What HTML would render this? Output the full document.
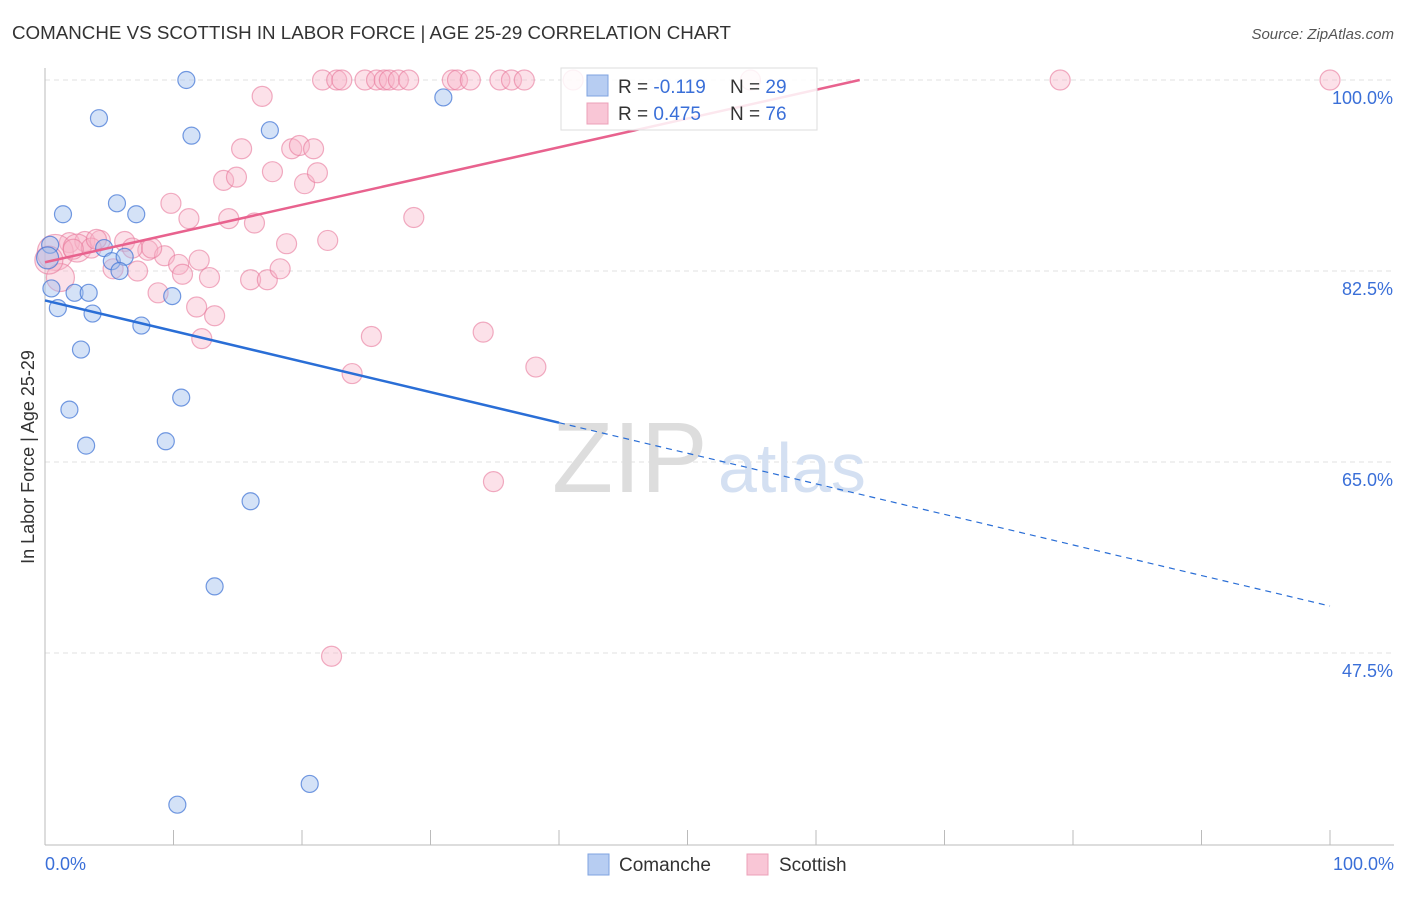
<!DOCTYPE html>
<html><head><meta charset="utf-8"><style>
body{margin:0;background:#fff;font-family:"Liberation Sans",sans-serif;}
svg text{font-family:"Liberation Sans",sans-serif;}
</style></head><body>
<svg width="1406" height="892" viewBox="0 0 1406 892">
<text x="12" y="39" font-size="18" fill="#333" textLength="719" lengthAdjust="spacingAndGlyphs">COMANCHE VS SCOTTISH IN LABOR FORCE | AGE 25-29 CORRELATION CHART</text>
<text x="1394" y="39" font-size="15" fill="#555" font-style="italic" text-anchor="end">Source: ZipAtlas.com</text>
<g id="grid"></g>
<g><text x="552" y="492" font-size="100" fill="#ddd" font-family="Liberation Serif">ZIP</text><text x="718" y="492" font-size="70" fill="#d4e0f2">atlas</text></g>
<line x1="45" y1="68" x2="45" y2="845" stroke="#bbb"/>
<line x1="45" y1="845" x2="1394" y2="845" stroke="#bbb"/>
<g id="xt"></g>
<g id="yl"></g>
<text x="45" y="870" font-size="18" fill="#3a6fd8">0.0%</text>
<text x="1394" y="870" font-size="18" fill="#3a6fd8" text-anchor="end">100.0%</text>
<text transform="translate(34,457) rotate(-90)" font-size="18" fill="#333" text-anchor="middle">In Labor Force | Age 25-29</text>
<g id="pts"></g>
<g id="lines"></g>
<g>
<rect x="561" y="68" width="256" height="62" fill="rgba(255,255,255,0.85)" stroke="#ddd"/>
<rect x="587" y="75" width="21" height="21" fill="#b7cdf2" stroke="#7fa3e0"/>
<rect x="587" y="103" width="21" height="21" fill="#f9c6d6" stroke="#eca0b8"/>
<text x="618" y="93" font-size="19" fill="#333">R = <tspan fill="#3a6fd8">-0.119</tspan></text>
<text x="730" y="93" font-size="19" fill="#333">N = <tspan fill="#3a6fd8">29</tspan></text>
<text x="618" y="120" font-size="19" fill="#333">R = <tspan fill="#3a6fd8">0.475</tspan></text>
<text x="730" y="120" font-size="19" fill="#333">N = <tspan fill="#3a6fd8">76</tspan></text>
</g>
<g>
<rect x="588" y="854" width="21" height="21" fill="#b7cdf2" stroke="#7fa3e0"/>
<text x="619" y="871" font-size="19" fill="#333">Comanche</text>
<rect x="747" y="854" width="21" height="21" fill="#f9c6d6" stroke="#eca0b8"/>
<text x="779" y="871" font-size="19" fill="#333">Scottish</text>
</g>
</svg>
<script>
const yTicks=[100,82.5,65,47.5];
const yTickLabels=["100.0%","82.5%","65.0%","47.5%"];
const comancheX=[11,31,4.2,11.4,17.5,5.6,7.1,1.4,0.4,4.6,5.2,6.2,5.8,0.5,2.3,3.4,1,3.7,9.9,7.5,2.8,10.6,1.9,9.4,3.2,16,13.2,20.6,10.3,0.2];
const comancheY=[100,98.4,96.5,94.9,95.4,88.7,87.7,87.7,84.9,84.6,83.4,83.8,82.5,80.9,80.5,80.5,79.1,78.6,80.2,77.5,75.3,70.9,69.8,66.9,66.5,61.4,53.6,35.5,33.6,83.7];
const scottishX=[21.6,22.7,23.1,24.9,25.8,26.4,26.8,27.5,28.3,31.7,32.1,33.1,35.4,36.3,37.3,41.1,54.9,79,100,16.9,15.3,17.7,19.2,19.8,20.9,20.2,21.2,13.9,14.9,9.8,11.2,14.3,16.3,28.7,18.8,1.9,3.1,4.3,6.2,8,9.3,10.4,10.7,12.8,16,17.3,18.3,5.3,7.2,8.8,11.8,13.2,12.2,25.4,34.1,23.9,38.2,34.9,22.3,0.8,1.2,0.3,2.5,3.6,6.8,8.3,12,22,4,2.2];
const scottishY=[100,100,100,100,100,100,100,100,100,100,100,100,100,100,100,100,100,100,100,98.5,93.7,91.6,93.7,94,93.7,90.5,91.5,90.8,91.1,88.7,87.3,87.3,86.9,87.4,85,85.1,85.2,85.3,85.2,84.4,83.9,83.1,82.2,81.9,81.7,81.7,82.7,82.7,82.5,80.5,79.2,78.4,76.3,76.5,76.9,73.1,73.7,63.2,47.2,84.2,81.9,83.5,84.6,84.6,84.6,84.6,83.5,85.3,85.4,84.5];
const trendPink=[[0,83.3],[63.4,100]];
const trendBlueSolid=[[0,79.8],[40,68.6]];
const trendBlueDash=[[40,68.6],[100,51.8]];
const NS='http://www.w3.org/2000/svg';
const X=v=>45+v*12.85, Y=v=>80+(100-v)*10.914;
function mk(t,a,p){const e=document.createElementNS(NS,t);for(const k in a)e.setAttribute(k,a[k]);p.appendChild(e);return e;}
const grid=document.getElementById('grid'),yl=document.getElementById('yl'),xt=document.getElementById('xt');
yTicks.forEach((v,i)=>{
 const l=mk('line',{x1:45,x2:1394,y1:Y(v),y2:Y(v),stroke:'#e2e2e2','stroke-dasharray':'5,4'},grid);
 
 
 const t=mk('text',{x:1393,y:Y(v)+24,'font-size':18,fill:'#3a6fd8','text-anchor':'end'},yl);
 t.textContent=yTickLabels[i];
 
 
});
for(let i=1;i<=10;i++){
 const l=mk('line',{x1:X(i*10),x2:X(i*10),y1:830,y2:845,stroke:'#bbb'},xt);
 
 
}
const pts=document.getElementById('pts');
scottishX.forEach((v,i)=>{
 const r=(i>=59&&i<=62)?(i==59?18:14):10;
 const c=mk('circle',{cx:X(v),cy:Y(scottishY[i]),r:r,fill:'rgba(248,180,200,0.4)',stroke:'rgba(232,120,155,0.6)','stroke-width':1.2},pts);
 
 
});
comancheX.forEach((v,i)=>{
 const c=mk('circle',{cx:X(v),cy:Y(comancheY[i]),r:i==29?11:8.5,fill:'rgba(160,190,238,0.45)',stroke:'rgba(70,120,215,0.75)','stroke-width':1.2},pts);
 
 
});
const lines=document.getElementById('lines');
function ln(p,col,w,dash,name){const e=mk('line',{x1:X(p[0][0]),y1:Y(p[0][1]),x2:X(p[1][0]),y2:Y(p[1][1]),stroke:col,'stroke-width':w},lines);if(dash)e.setAttribute('stroke-dasharray',dash);
 
 }
ln(trendPink,'#e8628e',2.5,null,'scottish-trend-line');
ln(trendBlueSolid,'#2a6ed6',2.5,null,'comanche-trend-line');
ln(trendBlueDash,'#2a6ed6',1.2,'6,5','comanche-trend-extension');
</script>
</body></html>
